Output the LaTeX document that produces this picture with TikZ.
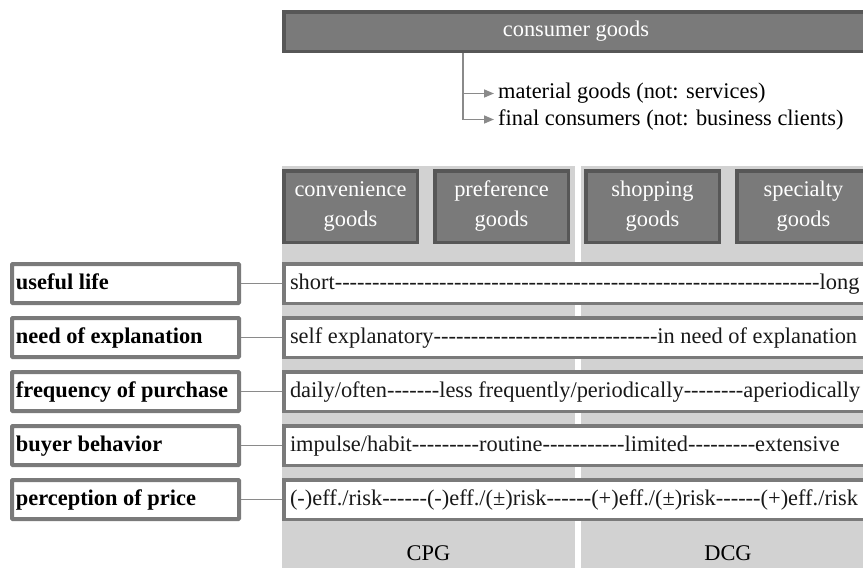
\documentclass[tikz,border=0pt]{standalone}
\usepackage{fontspec}
\setmainfont{Liberation Serif}[Ligatures=TeXOff]
\usetikzlibrary{arrows.meta}

\definecolor{boxfill}{HTML}{7A7A7A}
\definecolor{boxedge}{HTML}{575757}
\definecolor{colfill}{HTML}{D2D2D2}
\definecolor{frame}{HTML}{7A7A7A}
\definecolor{wirec}{HTML}{8A8A8A}

\newcount\dashcnt
\newcommand\dashes[1]{\dashcnt=0 \loop\ifnum\dashcnt<#1 -\advance\dashcnt by 1 \repeat}
\newcommand\lbltext[1]{\hbox to 219pt{\strut#1\hss}}
\newcommand\rowtext[1]{\hbox to 577pt{\strut#1\hss}}

\tikzset{
  txt/.style={font=\fontsize{22.4}{30}\selectfont},
  darkbox/.style={txt, draw=boxedge, fill=boxfill, line width=3.5pt,
    text=white, inner sep=0pt, align=center},
  goodsbox/.style={darkbox, minimum width=133.5pt, minimum height=71.5pt},
  labelbox/.style={draw=frame, fill=white, line width=4pt, inner xsep=4pt,
    inner ysep=0pt, minimum height=39pt, anchor=north west, rounded corners=0.8pt,
    font=\fontsize{22.4}{30}\selectfont\bfseries},
  rowbox/.style={txt, draw=frame, fill=white, line width=3.5pt, inner xsep=6.25pt,
    inner ysep=0pt, minimum height=39.5pt, anchor=north west, text=black!90},
  wire/.style={draw=wirec, line width=1.5pt},
  tip/.style={-{Triangle[length=10pt,width=8pt]}},
}

\begin{document}
\begin{tikzpicture}[x=1pt,y=-1pt]
\useasboundingbox (0,0) rectangle (863,568);
\clip (0,0) rectangle (863,568);

% column backgrounds
\fill[colfill] (282,166) rectangle (575,570);
\fill[colfill] (581,166) rectangle (880,570);

% top category bar
\node[darkbox, minimum width=584.5pt, minimum height=39.5pt] (cg) at (576,31.5) {consumer goods};

% defining properties
\coordinate (sx) at (463,0);
\node[txt, anchor=west, inner sep=4pt] (m1) at (494,93.5) {material goods (not: services)};
\node[txt, anchor=west, inner sep=4pt] (m2) at (494,119.5) {final consumers (not: business clients)};
\draw[wire, tip] (cg.south -| sx) |- (m2.west);
\draw[wire, tip] (sx |- m1.west) -- (m1.west);

% goods types
\node[goodsbox] (g1) at (350.5,206.5) {convenience\\goods};
\node[goodsbox] (g2) at (501.5,206.5) {preference\\goods};
\node[goodsbox] (g3) at (652.5,206.5) {shopping\\goods};
\node[goodsbox] (g4) at (803.5,206.5) {specialty\\goods};

% criteria and their scales
\node[labelbox] (l1) at (10,262) {\lbltext{useful life}};
\node[labelbox] (l2) at (10,316) {\lbltext{need of explanation}};
\node[labelbox] (l3) at (10,370) {\lbltext{frequency of purchase}};
\node[labelbox] (l4) at (10,424) {\lbltext{buyer behavior}};
\node[labelbox] (l5) at (10,478) {\lbltext{perception of price}};

\node[rowbox] (r1) at (282,262) {\rowtext{short\dashes{65}long}};
\node[rowbox] (r2) at (282,316) {\rowtext{self explanatory\dashes{30}in need of explanation}};
\node[rowbox] (r3) at (282,370) {\rowtext{daily/often\dashes{7}less frequently/periodically\dashes{8}aperiodically}};
\node[rowbox] (r4) at (282,424) {\rowtext{impulse/habit\dashes{9}routine\dashes{11}limited\dashes{9}extensive}};
\node[rowbox] (r5) at (282,478) {\rowtext{(-)eff./risk\dashes{6}(-)eff./(±)risk\dashes{6}(+)eff./(±)risk\dashes{6}(+)eff./risk}};

\foreach \i in {1,...,5} \draw[wire] (l\i.east) -- (r\i.west);

% group labels
\node[txt] (cpg) at (428.5,553) {CPG};
\node[txt] (dcg) at (728,553) {DCG};
\end{tikzpicture}
\end{document}
